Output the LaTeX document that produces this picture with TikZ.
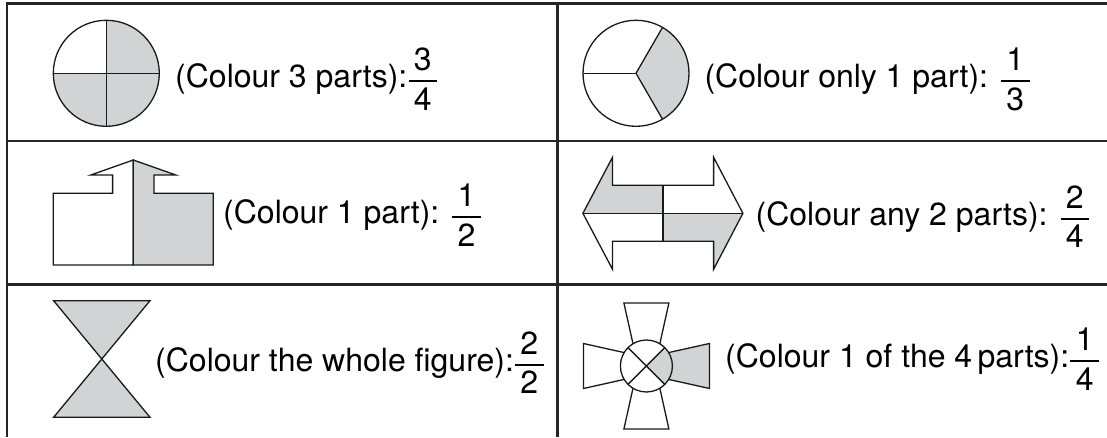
\documentclass[tikz,border=0pt]{standalone}
\usepackage{amsmath}
\usepackage{fontspec}
\setmainfont{TeX Gyre Heros}
\definecolor{shadegrey}{HTML}{D1D3D4}
\newcommand\fr[2]{$\genfrac{}{}{1.8pt}{0}{\text{\,#1\,}}{\text{\,#2\,}}$}
\tikzset{
  grid/.style={line width=2.2pt, draw=black!85},
  fig/.style={line width=1.3pt, draw=black!90, line join=miter},
  shade/.style={fill=shadegrey},
  lbl/.style={anchor=base west, inner sep=0pt, font=\fontsize{32}{38}\selectfont},
}
\begin{document}
\begin{tikzpicture}[x=1pt,y=1pt]
\useasboundingbox (0,0) rectangle (1107,437);
% table
\draw[grid] (7,0) -- (7,433.5) -- (1107,433.5);
\draw[grid] (557.5,0) -- (557.5,433.5);
\draw[grid] (7,295.7) -- (1107,295.7);
\draw[grid] (7,152.5) -- (1107,152.5);
% row 1 left: circle 3/4
\coordinate (c1) at (106.3,363.7);
\fill[shade] (c1) -- ++(0:53) arc[start angle=0,end angle=90,radius=53] -- cycle;
\fill[shade] (c1) -- ++(180:53) arc[start angle=180,end angle=360,radius=53] -- cycle;
\draw[fig] (c1) circle[radius=53];
\draw[fig] (c1) ++(-53,0) -- ++(106,0);
\draw[fig] (c1) ++(0,-53) -- ++(0,106);
% row 1 right: circle 1/3
\coordinate (c2) at (636,363.7);
\fill[shade] (c2) -- ++(-60:53) arc[start angle=-60,end angle=60,radius=53] -- cycle;
\draw[fig] (c2) circle[radius=53];
\draw[fig] (c2) -- ++(180:53);
\draw[fig] (c2) -- ++(60:53);
\draw[fig] (c2) -- ++(-60:53);
% row 2 left: arrow 1/2
\draw[fig] (133.3,172) -- (53.3,172) -- (53.3,243.7) -- (112.6,243.7) -- (112.6,262) -- (90.8,262) -- (133.3,277) -- cycle;
\filldraw[fig, shade] (133.3,172) -- (213.3,172) -- (213.3,243.7) -- (154,243.7) -- (154,262) -- (175.8,262) -- (133.3,277) -- cycle;
% row 2 right: double arrow 2/4
\fill[shade] (582.9,223.7) -- (612.5,279.7) -- (612.5,251.7) -- (662.9,251.7) -- (662.9,223.7) -- cycle;
\fill[shade] (662.9,223.7) -- (742.9,223.7) -- (713.6,167.7) -- (713.6,195.7) -- (662.9,195.7) -- cycle;
\draw[fig] (582.9,223.7) -- (612.5,279.7) -- (612.5,251.7) -- (713.6,251.7) -- (713.6,279.7) -- (742.9,223.7) -- (713.6,167.7) -- (713.6,195.7) -- (612.5,195.7) -- (612.5,167.7) -- cycle;
\draw[fig] (582.9,223.7) -- (742.9,223.7);
\draw[fig] (662.9,251.7) -- (662.9,195.7);
% row 3 left: hourglass 2/2
\filldraw[fig, shade] (53.6,136.3) -- (150,136.3) -- (101.8,78) -- cycle;
\filldraw[fig, shade] (53.6,19.7) -- (150,19.7) -- (101.8,78) -- cycle;
% row 3 right: cross 1/4
\begin{scope}[shift={(646.4,71)}]
  \filldraw[fig, shade] (10,-10.7) -- (63,-22.5) -- (63,22.5) -- (10,10.7) -- cycle;
  \draw[fig, rotate=90] (10,-10.7) -- (63,-22.5) -- (63,22.5) -- (10,10.7) -- cycle;
  \draw[fig, rotate=180] (10,-10.7) -- (63,-22.5) -- (63,22.5) -- (10,10.7) -- cycle;
  \draw[fig, rotate=270] (10,-10.7) -- (63,-22.5) -- (63,22.5) -- (10,10.7) -- cycle;
  \fill[white] (0,0) circle[radius=26];
  \fill[shade] (0,0) -- (-45:26) arc[start angle=-45,end angle=45,radius=26] -- cycle;
  \draw[fig] (0,0) circle[radius=26];
  \draw[fig] (-45:26) -- (135:26);
  \draw[fig] (45:26) -- (-135:26);
\end{scope}
% labels
\node[lbl] (t1) at (175,349.7) {(Colour 3 parts):\fr34};
\node[lbl] (t2) at (704.3,349.7) {(Colour only 1 part): \fr13};
\node[lbl] (t3) at (223,213.7) {(Colour 1 part): \fr12};
\node[lbl] (t4) at (755.4,212) {(Colour any 2 parts): \fr24};
\node[lbl] (t5) at (155,66) {(Colour the whole figure):\fr22};
\node[lbl] (t6) at (725,69.7) {(Colour 1 of the 4\,parts):\fr14};
\end{tikzpicture}
\end{document}
